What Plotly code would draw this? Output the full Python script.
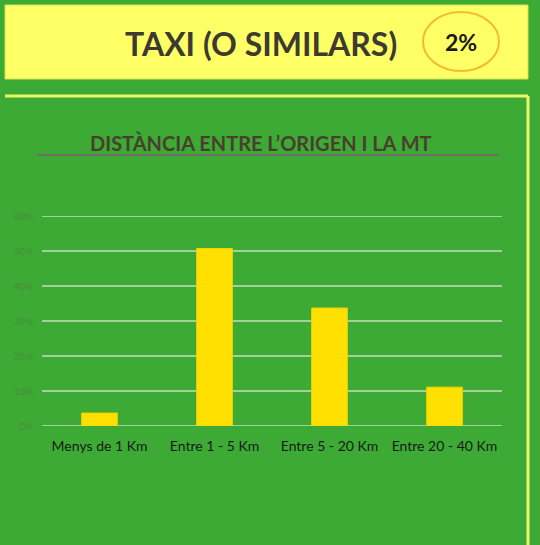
import plotly.graph_objects as go

categories = ["Menys de 1 Km", "Entre 1 - 5 Km", "Entre 5 - 20 Km", "Entre 20 - 40 Km"]
values = [0.037, 0.507, 0.337, 0.111]
tick_vals = [0, 0.1, 0.2, 0.3, 0.4, 0.5, 0.6]
tick_text = ["0%", "10%", "20%", "30%", "40%", "50%", "60%"]
header_title = "TAXI (O SIMILARS)"
header_pct = "2%"
chart_title = "DISTÀNCIA ENTRE L’ORIGEN I LA MT"

W, H = 540, 545
L, R, T, B = 42, 38, 216, 119
PW, PH = W - L - R, H - T - B

def px(x):
    return (x - L) / PW

def py(y):
    return (H - B - y) / PH

GREEN = "#3caa34"
FONT = "Lato, Liberation Sans, sans-serif"
GRID = "rgba(220,230,210,0.85)"

fig = go.Figure(go.Bar(
    x=categories, y=values,
    marker=dict(color="#ffe000", line=dict(color="#f2d400", width=1)),
    width=0.31,
    hoverinfo="skip",
))

shapes = [
    dict(type="rect", xref="paper", yref="paper", x0=px(5), x1=px(528), y0=py(79), y1=py(5),
         fillcolor="#ffff66", line=dict(color="#d8e050", width=1), layer="below"),
    dict(type="circle", xref="paper", yref="paper", x0=px(423), x1=px(499), y0=py(71), y1=py(12),
         fillcolor="#ffff66", line=dict(color="#f3bc2a", width=2)),
    dict(type="line", xref="paper", yref="paper", x0=px(5), x1=px(528), y0=py(96), y1=py(96),
         line=dict(color="#f2f56a", width=3)),
    dict(type="line", xref="paper", yref="paper", x0=px(528), x1=px(528), y0=py(96), y1=py(548),
         line=dict(color="#f2f56a", width=3)),
    dict(type="line", xref="paper", yref="paper", x0=px(37), x1=px(499), y0=py(155), y1=py(155),
         line=dict(color="#6e6e66", width=2)),
]
# horizontal gridlines at each tick value
for v in tick_vals:
    shapes.append(dict(type="line", xref="paper", yref="y", x0=0, x1=1, y0=v, y1=v,
                       line=dict(color=GRID, width=1.5), layer="below"))

annotations = [
    dict(text="<b>" + header_title + "</b>", xref="paper", yref="paper", x=px(261), y=py(43),
         xanchor="center", yanchor="middle", showarrow=False,
         font=dict(family=FONT, size=32, color="#3d3a30")),
    dict(text="<b>" + header_pct + "</b>", xref="paper", yref="paper", x=px(461), y=py(42),
         xanchor="center", yanchor="middle", showarrow=False,
         font=dict(family=FONT, size=23, color="#1a1a1a")),
    dict(text="<b>" + chart_title + "</b>", xref="paper", yref="paper", x=px(261), y=py(143),
         xanchor="center", yanchor="middle", showarrow=False,
         font=dict(family=FONT, size=20, color="#48402c")),
]

fig.update_layout(
    width=W, height=H,
    margin=dict(l=L, r=R, t=T, b=B, pad=0),
    paper_bgcolor=GREEN, plot_bgcolor=GREEN,
    showlegend=False,
    shapes=shapes,
    annotations=annotations,
    bargap=0.69,
    xaxis=dict(
        showgrid=False, showline=False, zeroline=False, ticks="",
        tickfont=dict(family=FONT, size=14, color="#1a1a1a"),
        ticklabelstandoff=10,
        fixedrange=True,
    ),
    yaxis=dict(
        range=[0, 0.6], tickvals=tick_vals, ticktext=tick_text,
        showgrid=False,
        zeroline=False, showline=False, ticks="",
        tickfont=dict(family=FONT, size=10, color="#4a8c3e"),
        ticklabelstandoff=8,
        fixedrange=True,
    ),
)

fig.write_html(
    "out.html",
    config={"displayModeBar": False},
    post_script="document.body.style.margin='0';document.body.style.background='#3caa34';",
)
